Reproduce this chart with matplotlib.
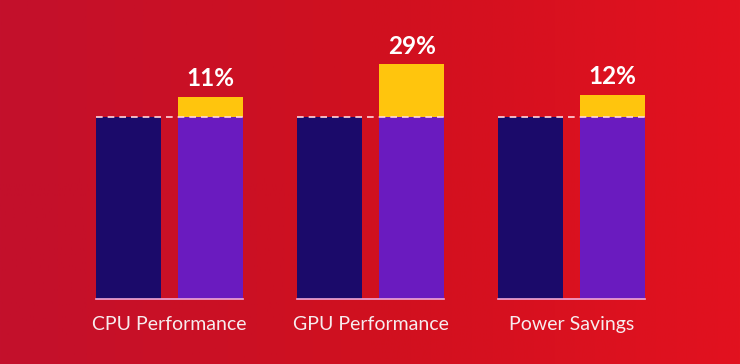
import numpy as np
import matplotlib
matplotlib.use("Agg")
import matplotlib.pyplot as plt
from matplotlib.colors import LinearSegmentedColormap

categories = ["CPU Performance", "GPU Performance", "Power Savings"]
baseline = [100, 100, 100]
improved_base = [100, 100, 100]
gains = [11, 29, 12]
gain_labels = ["11%", "29%", "12%"]

fig = plt.figure(figsize=(7.4, 3.64), dpi=100)

# background gradient
bg = fig.add_axes([0, 0, 1, 1])
bg.set_axis_off()
cmap = LinearSegmentedColormap.from_list("bg", ["#c3102c", "#d0101f", "#e2121f"])
grad = np.linspace(0, 1, 256).reshape(1, -1)
bg.imshow(grad, aspect="auto", cmap=cmap, extent=[0, 1, 0, 1])
bg.set_xlim(0, 1); bg.set_ylim(0, 1)

ax = fig.add_axes([0, 0, 1, 1])
ax.set_axis_off()
ax.patch.set_alpha(0)
px_per_unit = 1.82
ax.set_ylim(-(364 - 299) / px_per_unit, 299 / px_per_unit)
ax.set_xlim(-169.5 / 201, (740 - 169.5) / 201)

x = np.arange(len(categories))
w = 0.323
off = 0.205
navy = "#1b0a6a"
purple = "#6a1bbf"
yellow = "#ffc50d"

ax.bar(x - off, baseline, w, color=navy, zorder=2)
ax.bar(x + off, improved_base, w, color=purple, zorder=2)
ax.bar(x + off, gains, w, bottom=improved_base, color=yellow, zorder=2)

for i in range(len(categories)):
    left = x[i] - off - w / 2
    right = x[i] + off + w / 2
    ax.plot([left, right], [baseline[i], baseline[i]], color="#ffd6dc",
            lw=1.2, ls=(0, (4, 3)), zorder=3)
    ax.plot([left, right], [0, 0], color="#f0a8d8", lw=1.2, zorder=3)
    ax.text(x[i] + off, improved_base[i] + gains[i] + 10, gain_labels[i],
            ha="center", va="center", color="white", fontsize=17.5,
            fontweight="bold", family="Lato", zorder=4)
    ax.text(x[i], -14, categories[i], ha="center", va="center",
            color="#f7ecee", fontsize=14, family="Lato", zorder=4)

fig.savefig("out.png", dpi=100)
